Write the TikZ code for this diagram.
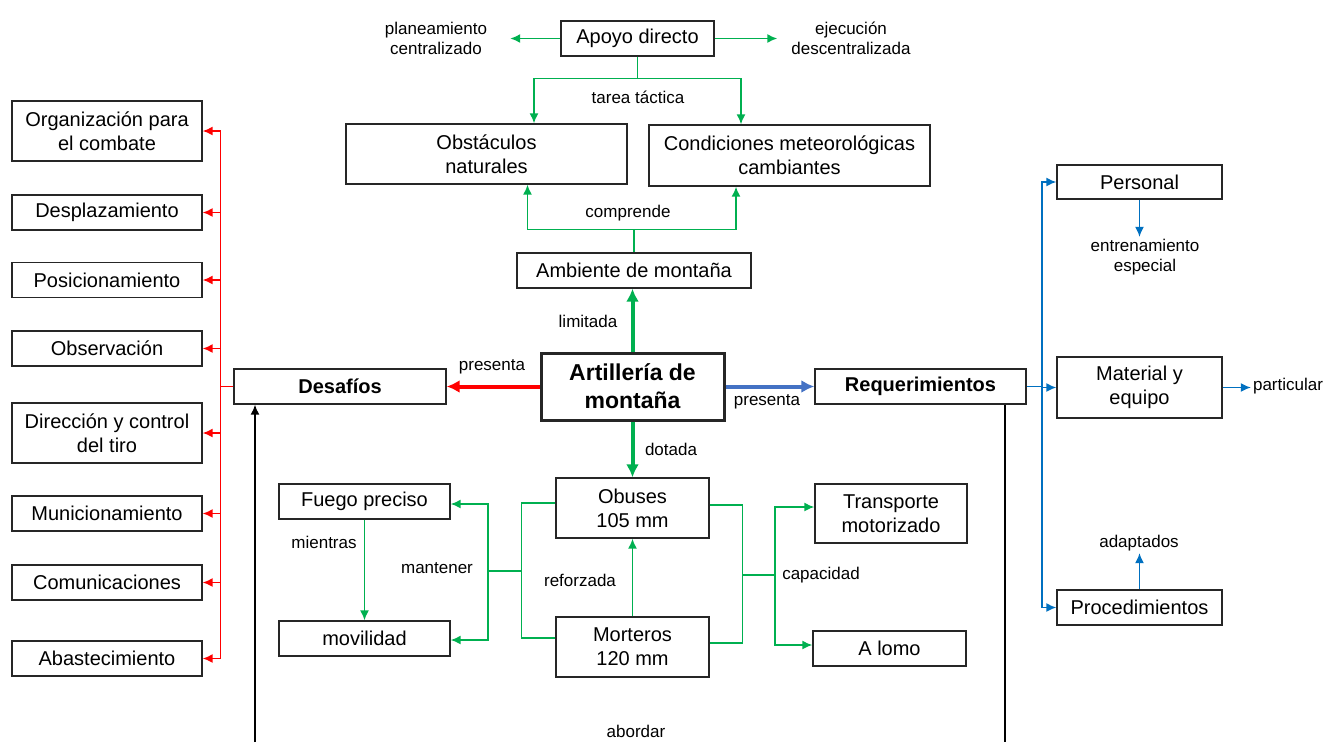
\documentclass[tikz,border=0pt]{standalone}
\usepackage{fontspec}
\setmainfont{Liberation Sans}
\usetikzlibrary{arrows.meta}
\definecolor{mgreen}{HTML}{00B050}
\definecolor{mred}{HTML}{FF0000}
\definecolor{mblue}{HTML}{0070C0}
\definecolor{mbluedark}{HTML}{4472C4}
\tikzset{
  box/.style={draw=black!85, line width=1.4pt, align=center, inner sep=2pt, text=black, font=\fontsize{20}{24}\selectfont},
  lbl/.style={align=center, inner sep=2pt, text=black, font=\fontsize{17}{20}\selectfont},
  gthin/.style={draw=mgreen, line width=1.5pt},
  gthick/.style={draw=mgreen, line width=4pt},
  rthin/.style={draw=mred, line width=1.5pt},
  rthick/.style={draw=mred, line width=4pt},
  bthin/.style={draw=mblue, line width=1.5pt},
  bthick/.style={draw=mbluedark, line width=4pt},
  kthin/.style={draw=black, line width=1.5pt},
  thintip/.style={-{Latex[length=10pt,width=9pt]}},
  thicktip/.style={-{Latex[length=13pt,width=13pt]}},
}
\begin{document}
\begin{tikzpicture}[x=1pt, y=-1pt]
  \useasboundingbox (0,0) rectangle (1327,742);
  % top: apoyo directo and terrain
  \node[box, minimum width=153, minimum height=35] (apoyo) at (637.5,38.5) {Apoyo directo};
  \node[lbl] (plan) at (436,38.5) {planeamiento\\centralizado};
  \node[lbl] (ejec) at (851,38.5) {ejecución\\descentralizada};
  \node[box, minimum width=281, minimum height=60] (obst) at (486.5,154) {Obstáculos\\naturales};
  \node[box, minimum width=281, minimum height=61] (cond) at (789.5,155.5) {Condiciones meteorológicas\\cambiantes};
  \node[box, minimum width=234, minimum height=35] (amb) at (634,270.5) {Ambiente de montaña};
  % centre
  \node[box, line width=3pt, minimum width=183, minimum height=67, font=\fontsize{23}{28}\selectfont\bfseries] (art) at (632.5,386.5) {Artillería de\\montaña};
  \node[box, minimum width=212, minimum height=35, font=\fontsize{20}{24}\selectfont\bfseries] (desaf) at (340,386.5) {Desafíos};
  \node[box, minimum width=211, minimum height=35, font=\fontsize{20}{24}\selectfont\bfseries] (req) at (920.5,386.5) {Requerimientos};
  % left column (desafios)
  \node[box, minimum width=190, minimum height=60] (org) at (107,131) {Organización para\\el combate};
  \node[box, minimum width=190, minimum height=35] (despl) at (107,212.5) {Desplazamiento};
  \node[box, minimum width=190, minimum height=35] (posic) at (107,280) {Posicionamiento};
  \node[box, minimum width=190, minimum height=35] (obs) at (107,348.5) {Observación};
  \node[box, minimum width=190, minimum height=60] (dir) at (107,433) {Dirección y control\\del tiro};
  \node[box, minimum width=190, minimum height=35] (munic) at (107,513.5) {Municionamiento};
  \node[box, minimum width=190, minimum height=35] (comun) at (107,582.5) {Comunicaciones};
  \node[box, minimum width=190, minimum height=35] (abast) at (107,658.5) {Abastecimiento};
  % material below
  \node[box, minimum width=171, minimum height=35] (fuego) at (364.5,501.5) {Fuego preciso};
  \node[box, minimum width=171, minimum height=35] (movil) at (364.5,638.5) {movilidad};
  \node[box, minimum width=153, minimum height=60] (obuses) at (632.5,508) {Obuses\\105 mm};
  \node[box, minimum width=153, minimum height=60] (mort) at (632.5,647) {Morteros\\120 mm};
  \node[box, minimum width=152, minimum height=59] (transp) at (891,513.5) {Transporte\\motorizado};
  \node[box, minimum width=153, minimum height=35] (alomo) at (889.5,648.5) {A lomo};
  % right column (requerimientos)
  \node[box, minimum width=165, minimum height=34] (pers) at (1139.5,182) {Personal};
  \node[box, minimum width=165, minimum height=61] (mat) at (1139.5,387.5) {Material y\\equipo};
  \node[box, minimum width=165, minimum height=35] (proc) at (1139.5,607.5) {Procedimientos};
  \node[lbl] (entr) at (1145,257) {entrenamiento\\especial};
  \node[lbl] (part) at (1288,386.5) {particular};
  \node[lbl] (adapt) at (1139,543) {adaptados};
  % link words
  \node[lbl] (tarea) at (638,97) {tarea táctica};
  \node[lbl] (compr) at (628,213) {comprende};
  \node[lbl] (limit) at (588,321) {limitada};
  \node[lbl] (presl) at (492,367) {presenta};
  \node[lbl] (presr) at (767,402) {presenta};
  \node[lbl] (dotada) at (671,449) {dotada};
  \node[lbl] (reforz) at (580,580) {reforzada};
  \node[lbl] (mientras) at (324,542) {mientras};
  \node[lbl] (manten) at (437,568) {mantener};
  \node[lbl] (capac) at (821,575) {capacidad};
  \node[lbl] (abordar) at (636,731) {abordar};
  % green connectors, top
  \draw[gthin, thintip, shorten >=21pt] (apoyo.west) -- (plan.east);
  \draw[gthin, thintip, shorten >=12pt] (apoyo.east) -- (ejec.west);
  \draw[gthin] (apoyo.south) -- ++(0,22) coordinate (tt);
  \draw[gthin, thintip] (tt) -| ([xshift=47.5pt]obst.north);
  \draw[gthin, thintip] (tt) -| ([xshift=-48.5pt]cond.north);
  \draw[gthin] (amb.north) -- ++(0,-23) coordinate (cc);
  \draw[gthin, thintip] (cc) -| ([xshift=41pt]obst.south);
  \draw[gthin, thintip] (cc) -| ([xshift=-53.5pt]cond.south);
  \draw[gthick, thicktip] (art.north) -- (art.north |- amb.south);
  % presenta
  \draw[rthick, thicktip] (art.west) -- (desaf.east);
  \draw[bthick, thicktip] (art.east) -- (req.west);
  % dotada, reforzada, mientras
  \draw[gthick, thicktip] (art.south) -- (obuses.north);
  \draw[gthin, thintip] (mort.north) -- (obuses.south);
  \draw[gthin, thintip] (fuego.south) -- (movil.north);
  % mantener
  \draw[gthin] ([yshift=5pt]obuses.west) -- ++(-34,0) |- ([yshift=9pt]mort.west);
  \coordinate (mj) at (522,571);
  \draw[gthin] (mj) -- ++(-34,0) coordinate (mk);
  \draw[gthin, thintip] (mk) |- ([yshift=-2.5pt]fuego.east);
  \draw[gthin, thintip] (mk) |- ([yshift=-1.5pt]movil.east);
  % capacidad
  \draw[gthin] ([yshift=3pt]obuses.east) -- ++(33,0) |- ([yshift=4pt]mort.east);
  \coordinate (cj) at (742,575);
  \draw[gthin] (cj) -- ++(33,0) coordinate (ck);
  \draw[gthin, thintip] (ck) |- ([yshift=6.5pt]transp.west);
  \draw[gthin, thintip] (ck) |- ([yshift=3.5pt]alomo.west);
  % red tree
  \coordinate (rj) at (220.5,386.5);
  \draw[rthin] (desaf.west) -- (rj);
  \foreach \n in {org,despl,posic,obs,dir,munic,comun,abast}
    \draw[rthin, thintip] (rj) |- (\n.east);
  % blue tree
  \coordinate (bj) at (1042,386.5);
  \draw[bthin] (req.east) -- (bj);
  \foreach \n in {pers,mat,proc}
    \draw[bthin, thintip] (bj) |- (\n.west);
  \draw[bthin, thintip] (pers.south) -- (pers.south |- entr.north);
  \draw[bthin, thintip] (mat.east) -- (mat.east -| part.west);
  \draw[bthin, thintip] (proc.north) -- (proc.north |- adapt.south);
  % abordar
  \coordinate (abl) at (255,742);
  \coordinate (abr) at (1005,742);
  \draw[kthin, thintip] (abl) -- (abl |- desaf.south);
  \draw[kthin] (abr |- req.south) -- (abr);
\end{tikzpicture}
\end{document}
